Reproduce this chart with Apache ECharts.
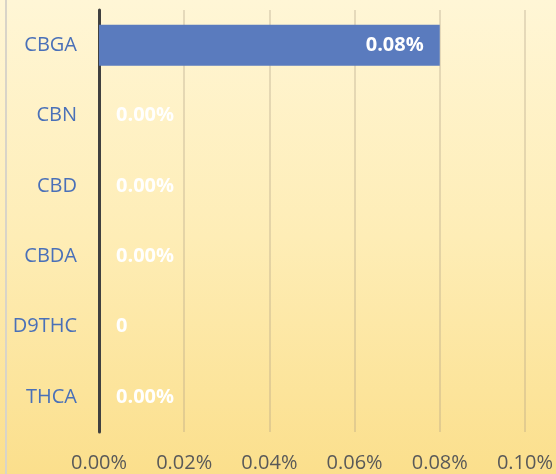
<!DOCTYPE html>
<html lang="en">
  <head>
    <meta charset="UTF-8" />
    <title>Cannabinoid bar chart</title>
    <style>
      html,
      body {
        width: 100%;
        height: 100%;
        margin: 0;
        overflow: hidden;
      }
      #main {
        width: 556px;
        height: 474px;
      }
    </style>
  </head>
  <body>
    <div id="main"></div>
    <script src="https://cdn.jsdelivr.net/npm/echarts@6/dist/echarts.min.js"></script>
    <script>
      // data (values in percent)
      const categories = ["CBGA", "CBN", "CBD", "CBDA", "D9THC", "THCA"];
      const values = [0.08, 0, 0, 0, 0, 0];
      const valueLabels = ["0.08%", "0.00%", "0.00%", "0.00%", "0", "0.00%"];

      const font = "'Open Sans', 'Liberation Sans', sans-serif";

      // per-bar label: inside the bar when it has length, right of the axis otherwise
      const barData = values.map((v, i) => ({
        value: v,
        label: {
          position: v > 0 ? "insideRight" : "right",
          distance: v > 0 ? 16 : 17,
          formatter: valueLabels[i],
        },
      }));

      const option = {
        backgroundColor: new echarts.graphic.LinearGradient(0, 0, 0, 1, [
          { offset: 0, color: "#FFF6D6" },
          { offset: 0.5, color: "#FEEDB6" },
          { offset: 1, color: "#FBDF8C" },
        ]),
        textStyle: { fontFamily: font },
        grid: { left: 99, right: 30, top: 10, bottom: 42 },
        xAxis: {
          type: "value",
          min: 0,
          max: 0.1,
          interval: 0.02,
          axisLine: { show: false },
          axisTick: { show: false },
          axisLabel: {
            color: "#595959",
            fontSize: 20,
            margin: 21,
            formatter: (v) => v.toFixed(2) + "%",
          },
          splitLine: {
            lineStyle: { color: "rgba(175,160,135,0.32)", width: 2 },
          },
        },
        yAxis: {
          type: "category",
          data: categories,
          inverse: true,
          axisTick: { show: false },
          axisLine: { lineStyle: { color: "#404040", width: 3 } },
          axisLabel: { color: "#4A70B8", fontSize: 20, margin: 22 },
        },
        series: [
          {
            type: "bar",
            data: barData,
            barWidth: 41,
            itemStyle: { color: "#5A7BBE" },
            label: {
              show: true,
              color: "#FFFFFF",
              fontWeight: "bold",
              fontSize: 20,
            },
          },
        ],
        graphic: [
          {
            type: "rect",
            shape: { x: 5, y: 0, width: 2, height: 474 },
            style: { fill: "#D9D4C8" },
            silent: true,
          },
        ],
      };

      const myChart = echarts.init(document.getElementById("main"));
      myChart.setOption(option);
    </script>
  </body>
</html>
